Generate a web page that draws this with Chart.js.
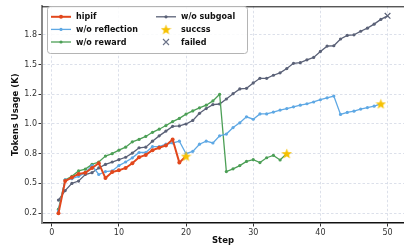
<!DOCTYPE html>
<html>
<head>
<meta charset="utf-8">
<script src="https://cdn.jsdelivr.net/npm/chart.js@4.4.0/dist/chart.umd.min.js"></script>
<style>
  html, body { margin: 0; padding: 0; background: #fff; overflow: hidden; }
  canvas { display: block; }
</style>
</head>
<body>
<canvas id="chart" width="410" height="246"></canvas>
<script>
(function () {
    "use strict";

    // Token usage per step (K)
    const hipif = [0.25, 0.52, 0.55, 0.58, 0.59, 0.63, 0.67, 0.545, 0.595, 0.61,
        0.63, 0.67, 0.72, 0.74, 0.78, 0.80, 0.82, 0.87, 0.675, 0.73];
    const woReflection = [0.27, 0.53, 0.54, 0.56, 0.59, 0.65, 0.575, 0.60, 0.605, 0.65,
        0.68, 0.715, 0.76, 0.76, 0.81, 0.81, 0.83, 0.84, 0.855, 0.75,
        0.77, 0.83, 0.855, 0.84, 0.90, 0.915, 0.97, 1.01, 1.06, 1.04,
        1.085, 1.085, 1.10, 1.117, 1.13, 1.144, 1.158, 1.17, 1.185, 1.204,
        1.22, 1.235, 1.08, 1.097, 1.108, 1.125, 1.138, 1.15, 1.17];
    const woReward = [0.283, 0.53, 0.56, 0.605, 0.62, 0.66, 0.68, 0.73, 0.75, 0.78,
        0.805, 0.85, 0.87, 0.895, 0.93, 0.956, 0.987, 1.02, 1.047, 1.083,
        1.11, 1.136, 1.158, 1.194, 1.25, 0.60, 0.623, 0.65, 0.685, 0.70,
        0.675, 0.716, 0.736, 0.697, 0.752];
    const woSubgoal = [0.36, 0.44, 0.50, 0.52, 0.575, 0.59, 0.63, 0.66, 0.68, 0.70,
        0.72, 0.755, 0.80, 0.805, 0.855, 0.90, 0.94, 0.98, 0.984, 1.0,
        1.03, 1.09, 1.13, 1.163, 1.168, 1.21, 1.255, 1.295, 1.30, 1.345,
        1.384, 1.384, 1.41, 1.43, 1.466, 1.51, 1.516, 1.54, 1.56, 1.61,
        1.655, 1.658, 1.715, 1.745, 1.75, 1.78, 1.806, 1.84, 1.88, 1.91];

    const xTicks = [0, 10, 20, 30, 40, 50];
    const yTicks = [0.25, 0.5, 0.75, 1.0, 1.25, 1.5, 1.75];
    const yTickLabels = ["0.2", "0.5", "0.8", "1.0", "1.2", "1.5", "1.8"];

    const RED = "#e2471c";
    const BLUE = "#5ea8e4";
    const GREEN = "#4c9f56";
    const GRAY = "#5a6177";
    const GOLD = "#f6c100";
    const FONT = "'DejaVu Sans', sans-serif";

    const toPoints = (arr) => arr.map((v, i) => ({ x: i + 1, y: v }));
    const last = (arr) => ({ x: arr.length, y: arr[arr.length - 1] });
    // hide the marker on the final step, the success / failed marker sits there
    const radiusBut = (arr, r) => (c) => (c.dataIndex === arr.length - 1 ? 0 : r);

    // filled star used as point style
    function makeStar(size) {
        const cv = document.createElement("canvas");
        cv.width = size;
        cv.height = size;
        const g = cv.getContext("2d");
        const cx = size / 2, cy = size / 2 + 0.5;
        const ro = size / 2, ri = ro * 0.42;
        g.beginPath();
        for (let k = 0; k < 10; k++) {
            const r = k % 2 === 0 ? ro : ri;
            const a = -Math.PI / 2 + (k * Math.PI) / 5;
            g.lineTo(cx + r * Math.cos(a), cy + r * Math.sin(a));
        }
        g.closePath();
        g.fillStyle = GOLD;
        g.fill();
        return cv;
    }
    const star = makeStar(11);

    function drawCross(ctx, x, y, r, color, w) {
        ctx.save();
        ctx.strokeStyle = color;
        ctx.lineWidth = w;
        ctx.beginPath();
        ctx.moveTo(x - r, y - r); ctx.lineTo(x + r, y + r);
        ctx.moveTo(x - r, y + r); ctx.lineTo(x + r, y - r);
        ctx.stroke();
        ctx.restore();
    }

    // matplotlib style legend in two columns + top spine
    const cornerLegend = {
        id: "cornerLegend",
        afterDraw(chart) {
            const ctx = chart.ctx;
            const a = chart.chartArea;
            ctx.save();
            ctx.strokeStyle = "#111";
            ctx.lineWidth = 1;
            ctx.beginPath();
            ctx.moveTo(a.left, a.top + 0.5);
            ctx.lineTo(a.right, a.top + 0.5);
            ctx.stroke();

            const bx = 47.5, by = 6.5, bw = 200, bh = 47;
            ctx.beginPath();
            ctx.roundRect(bx, by, bw, bh, 3);
            ctx.fillStyle = "rgba(255,255,255,0.85)";
            ctx.fill();
            ctx.strokeStyle = "#b4b4b4";
            ctx.lineWidth = 1;
            ctx.stroke();

            const rows = [16.8, 29.4, 42];
            const cols = [51, 156];
            const entries = [
                { text: "hipif", kind: "line", color: RED, lw: 2, r: 2 },
                { text: "w/o reflection", kind: "line", color: BLUE, lw: 1.3, r: 1.6 },
                { text: "w/o reward", kind: "line", color: GREEN, lw: 1.3, r: 1.6 },
                { text: "w/o subgoal", kind: "line", color: GRAY, lw: 1.3, r: 1.6 },
                { text: "succss", kind: "star" },
                { text: "failed", kind: "cross" },
            ];
            ctx.font = "bold 8px " + FONT;
            ctx.textBaseline = "middle";
            entries.forEach((e, i) => {
                const x0 = cols[Math.floor(i / 3)];
                const y = rows[i % 3];
                const cx = x0 + 10;
                if (e.kind === "line") {
                    ctx.strokeStyle = e.color;
                    ctx.lineWidth = e.lw;
                    ctx.beginPath();
                    ctx.moveTo(x0, y);
                    ctx.lineTo(x0 + 20, y);
                    ctx.stroke();
                    ctx.fillStyle = e.color;
                    ctx.beginPath();
                    ctx.arc(cx, y, e.r, 0, Math.PI * 2);
                    ctx.fill();
                } else if (e.kind === "star") {
                    ctx.drawImage(star, cx - star.width / 2, y - star.height / 2);
                } else {
                    drawCross(ctx, cx, y, 3, "#6b7288", 1.1);
                }
                ctx.fillStyle = "#111";
                ctx.fillText(e.text, x0 + 25, y + 0.5);
            });
            ctx.restore();
        },
    };

    const lineSet = (label, arr, color, lw, r) => ({
        label: label,
        data: toPoints(arr),
        borderColor: color,
        backgroundColor: color,
        borderWidth: lw,
        pointRadius: radiusBut(arr, r),
        pointBorderWidth: 0,
        pointHoverRadius: 0,
        tension: 0,
    });

    new Chart(document.getElementById("chart"), {
        type: "line",
        data: {
            datasets: [
                {
                    label: "succss",
                    data: [last(hipif), last(woReward), last(woReflection)],
                    showLine: false,
                    pointStyle: star,
                    pointRadius: 5,
                },
                {
                    label: "failed",
                    data: [last(woSubgoal)],
                    showLine: false,
                    pointStyle: "crossRot",
                    pointRadius: 4,
                    borderColor: GRAY,
                    borderWidth: 1.2,
                },
                lineSet("hipif", hipif, RED, 2, 2),
                lineSet("w/o reflection", woReflection, BLUE, 1.3, 1.6),
                lineSet("w/o reward", woReward, GREEN, 1.3, 1.6),
                lineSet("w/o subgoal", woSubgoal, GRAY, 1.3, 1.6),
            ],
        },
        options: {
            responsive: false,
            animation: false,
            devicePixelRatio: 1,
            layout: { padding: { top: 3, left: 0, right: 0, bottom: 0 } },
            plugins: {
                legend: { display: false },
                tooltip: { enabled: false },
            },
            scales: {
                x: {
                    type: "linear",
                    min: -1.45,
                    max: 52.45,
                    afterBuildTicks: (s) => { s.ticks = xTicks.map((v) => ({ value: v })); },
                    afterFit: (s) => { s.height = 23; },
                    ticks: {
                        font: { family: FONT, size: 8 },
                        color: "#333",
                        padding: 1.5,
                        maxRotation: 0,
                    },
                    grid: {
                        color: "#d3d8e4",
                        lineWidth: 0.8,
                        tickLength: 3.5,
                        tickColor: "#333",
                        tickWidth: 1,
                        tickBorderDash: [],
                    },
                    border: { color: "#111", width: 1.5, dash: [2.5, 2] },
                    title: {
                        display: true,
                        text: "Step",
                        font: { family: FONT, size: 8.5, weight: "bold" },
                        color: "#111",
                        padding: { top: 0, bottom: 0 },
                    },
                },
                y: {
                    min: 0.167,
                    max: 1.99,
                    afterBuildTicks: (s) => { s.ticks = yTicks.map((v) => ({ value: v })); },
                    afterFit: (s) => { s.width = 42; },
                    ticks: {
                        font: { family: FONT, size: 8 },
                        color: "#333",
                        padding: 1.5,
                        callback: (v) => yTickLabels[yTicks.indexOf(v)],
                    },
                    grid: {
                        color: "#d3d8e4",
                        lineWidth: 0.8,
                        tickLength: 3.5,
                        tickColor: "#333",
                        tickWidth: 1,
                        tickBorderDash: [],
                    },
                    border: { color: "#888", width: 2, dash: [2.5, 2] },
                    title: {
                        display: true,
                        text: "Tokens Usage (K)",
                        font: { family: FONT, size: 8.5, weight: "bold" },
                        color: "#111",
                        padding: { top: 10.5, bottom: 0 },
                    },
                },
            },
        },
        plugins: [cornerLegend],
    });
})();
</script>
</body>
</html>
